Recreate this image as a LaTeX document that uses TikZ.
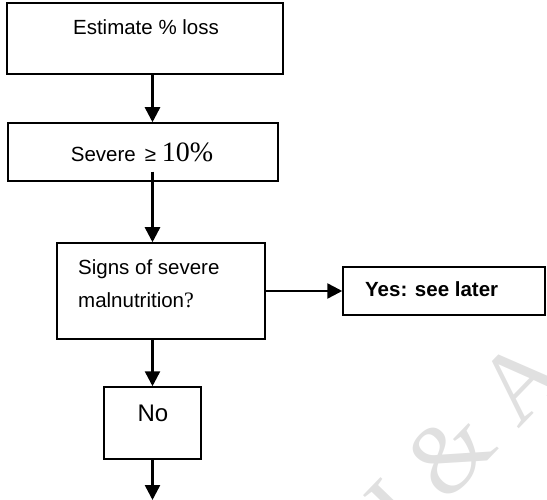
\documentclass[tikz,border=0pt]{standalone}
\usepackage{fontspec}
\setmainfont{Liberation Sans}
\newfontfamily\tmsfont{Liberation Serif}
\usetikzlibrary{arrows.meta,calc}
\begin{document}
\begin{tikzpicture}[x=1pt,y=-1pt,
  box/.style={draw,line width=1.5pt,inner sep=0pt},
  lbl/.style={inner sep=0pt,font=\fontsize{20.5}{24}\selectfont},
  flow/.style={line width=2.5pt,-{Triangle[width=15pt,length=15pt]}},
  wmark/.style={inner sep=0pt,text=black!12,font=\tmsfont\fontsize{100}{100}\selectfont}
]
\useasboundingbox (0,0) rectangle (547,500);

% faint watermark behind the chart
\begin{scope}
  \clip (0,0) rectangle (547,500);
  \node[wmark,rotate=46] (wm) at (462,441) {J \& A};
\end{scope}

% boxes
\node[box,minimum width=276pt,minimum height=71pt] (b1) at (145,38.5) {};
\node[box,minimum width=270pt,minimum height=58pt] (b2) at (143,152) {};
\node[box,minimum width=208pt,minimum height=96pt] (b3) at (161,291) {};
\node[box,minimum width=202pt,minimum height=48pt] (b4) at (444,291) {};
\node[box,minimum width=97pt,minimum height=72pt] (b5) at (152.5,423) {};

% texts
\node[lbl,anchor=base] (t1) at (146,35) {Estimate \% loss};
\node[lbl,anchor=base] (t2) at (142,162) {Severe \,≥ {\tmsfont\fontsize{28}{28}\selectfont 10\%}};
\node[lbl,anchor=base west] (t3a) at (78,275) {Signs of severe};
\node[lbl,anchor=base west] (t3b) at (78,308) {malnutrition{\tmsfont\fontsize{22}{24}\selectfont ?}};
\node[lbl,anchor=base west,font=\bfseries\fontsize{20.5}{24}\selectfont] (t4) at (365,297) {Yes: see later};
\node[lbl,anchor=base,font=\fontsize{24}{28}\selectfont] (t5) at (153,421) {No};

% connectors
\coordinate (s2) at ($(b2.south -| b5.center)+(0,-10)$);
\coordinate (fin) at (152.5,500);
\draw[flow] (b1.south -| b5.center) -- (b2.north -| b5.center);
\draw[flow] (s2) -- (b3.north -| b5.center);
\draw[flow] (b3.east) -- (b4.west);
\draw[flow] (b3.south -| b5.center) -- (b5.north);
\draw[flow] (b5.south) -- (fin);
\end{tikzpicture}
\end{document}
